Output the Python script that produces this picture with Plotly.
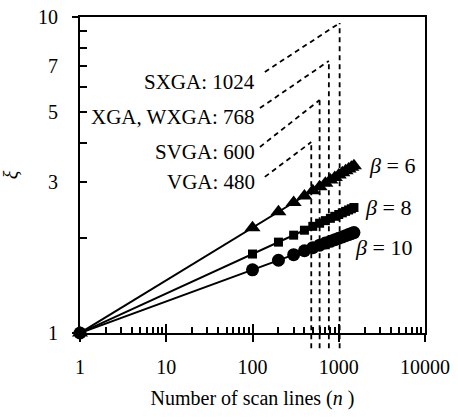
import numpy as np
import plotly.graph_objects as go

# ---------------- data ----------------
n_lines = [1, 100, 200, 300, 400, 500, 600, 700, 800, 900, 1000, 1100, 1200, 1300, 1400, 1500]
xi_beta6 = [1.00, 2.154, 2.418, 2.588, 2.714, 2.817, 2.904, 2.980, 3.047, 3.107, 3.162, 3.213, 3.260, 3.304, 3.345, 3.383]
xi_beta8 = [1.00, 1.778, 1.939, 2.040, 2.115, 2.175, 2.225, 2.268, 2.306, 2.340, 2.371, 2.400, 2.426, 2.451, 2.473, 2.495]
xi_beta10 = [1.00, 1.585, 1.699, 1.769, 1.821, 1.862, 1.896, 1.925, 1.951, 1.974, 1.995, 2.014, 2.032, 2.048, 2.064, 2.078]

beta_names = ["β = 6", "β = 8", "β = 10"]
beta_label_n = [2130, 1910, 1460]
beta_label_xi = [3.40, 2.50, 1.87]

res_names = ["SXGA: 1024", "XGA, WXGA: 768", "SVGA: 600", "VGA: 480"]
res_lines = [1024, 768, 600, 480]
res_top_xi = [9.57, 7.26, 5.46, 4.02]
res_start_n = [139, 122, 122, 139]
res_start_xi = [6.70, 5.15, 3.88, 3.12]
res_label_n = [112, 112, 112, 112]
res_label_xi = [6.23, 4.83, 3.74, 3.00]

x_ticks = [1, 10, 100, 1000, 10000]
x_tick_text = ["1", "10", "100", "1000", "10000"]
y_ticks = [1, 3, 5, 7, 10]
y_tick_text = ["1", "3", "5", "7", "10"]

# ---------------- styling ----------------
FONT = "Liberation Serif"
X_RANGE = [0, 4]       # log10
Y_RANGE = [0, 1]       # log10
DASH = dict(color="black", width=1.8, dash="5px,4px")

fig = go.Figure()

# dashed guides (diagonal part) as traces
for nm, nl, top, sn, sx in zip(res_names, res_lines, res_top_xi, res_start_n, res_start_xi):
    fig.add_trace(go.Scatter(x=[sn, nl], y=[sx, top], mode="lines", line=DASH,
                             hoverinfo="skip", showlegend=False))

# vertical dashed guides: shapes (x in data, y in paper so they can pass below the axis)
for nl, top in zip(res_lines, res_top_xi):
    ytop = (np.log10(top) - Y_RANGE[0]) / (Y_RANGE[1] - Y_RANGE[0])
    fig.add_shape(type="line", xref="x", yref="paper", x0=nl, x1=nl, y0=-0.048, y1=ytop,
                  line=DASH, layer="below")

series = [(xi_beta6, "triangle-up", 14), (xi_beta8, "square", 9), (xi_beta10, "circle", 13)]
for ys, sym, sz in series:
    fig.add_trace(go.Scatter(x=n_lines, y=ys, mode="lines+markers",
                             line=dict(color="black", width=2),
                             marker=dict(symbol=sym, size=sz, color="black"),
                             cliponaxis=False, showlegend=False))

# invisible trace to activate overlay axes (for outside tick marks)
fig.add_trace(go.Scatter(x=[1], y=[1], xaxis="x2", yaxis="y2", mode="markers",
                         marker=dict(opacity=0), hoverinfo="skip", showlegend=False))

for nm, ln, lx in zip(beta_names, beta_label_n, beta_label_xi):
    txt = nm.replace("β", "<i>β</i>")
    fig.add_annotation(x=np.log10(ln), y=np.log10(lx), xref="x", yref="y", text=txt,
                       showarrow=False, xanchor="left", yanchor="middle",
                       font=dict(family=FONT, size=22, color="black"))

for nm, ln, lx in zip(res_names, res_label_n, res_label_xi):
    fig.add_annotation(x=np.log10(ln), y=np.log10(lx), xref="x", yref="y", text=nm,
                       showarrow=False, xanchor="right", yanchor="middle",
                       font=dict(family=FONT, size=21, color="black"))

minor_x = [m * 10 ** d for d in range(4) for m in range(2, 10)]
minor_y = [2, 4, 6, 8, 9]

fig.update_layout(
    width=458, height=419,
    margin=dict(l=80, r=33, t=17, b=86),
    paper_bgcolor="white", plot_bgcolor="white",
    font=dict(family=FONT, size=20, color="black"),
    xaxis=dict(type="log", range=X_RANGE, showgrid=False, zeroline=False,
               showline=True, linecolor="black", linewidth=2, mirror=True,
               tickmode="array", tickvals=x_ticks, ticktext=x_tick_text,
               ticks="inside", ticklen=9, tickwidth=1.5, tickcolor="black",
               ticklabelstandoff=15,
               minor=dict(tickvals=minor_x, ticks="inside", ticklen=6, tickwidth=1.5,
                          tickcolor="black", showgrid=False),
               title=dict(text="Number of scan lines (<i>n</i> )", standoff=14,
                          font=dict(family=FONT, size=20)),
               automargin=False),
    yaxis=dict(type="log", range=Y_RANGE, showgrid=False, zeroline=False,
               showline=True, linecolor="black", linewidth=2, mirror=True,
               tickmode="array", tickvals=y_ticks, ticktext=y_tick_text,
               ticks="inside", ticklen=7, tickwidth=1.5, tickcolor="black",
               ticklabelstandoff=16,
               minor=dict(tickvals=minor_y, ticks="inside", ticklen=7, tickwidth=1.5,
                          tickcolor="black", showgrid=False),
               title=dict(text="<i>ξ</i>", standoff=14, font=dict(family=FONT, size=20)),
               automargin=False),
    xaxis2=dict(type="log", range=X_RANGE, overlaying="x", anchor="y2", side="bottom",
                showgrid=False, zeroline=False, showline=False, showticklabels=False,
                tickmode="array", tickvals=x_ticks, ticks="outside", ticklen=8,
                tickwidth=1.5, tickcolor="black"),
    yaxis2=dict(type="log", range=Y_RANGE, overlaying="y", anchor="x2", side="left",
                showgrid=False, zeroline=False, showline=False, showticklabels=False,
                tickmode="array", tickvals=[1, 10], ticks="outside", ticklen=7,
                tickwidth=1.5, tickcolor="black"),
)

fig.write_html("out.html")
